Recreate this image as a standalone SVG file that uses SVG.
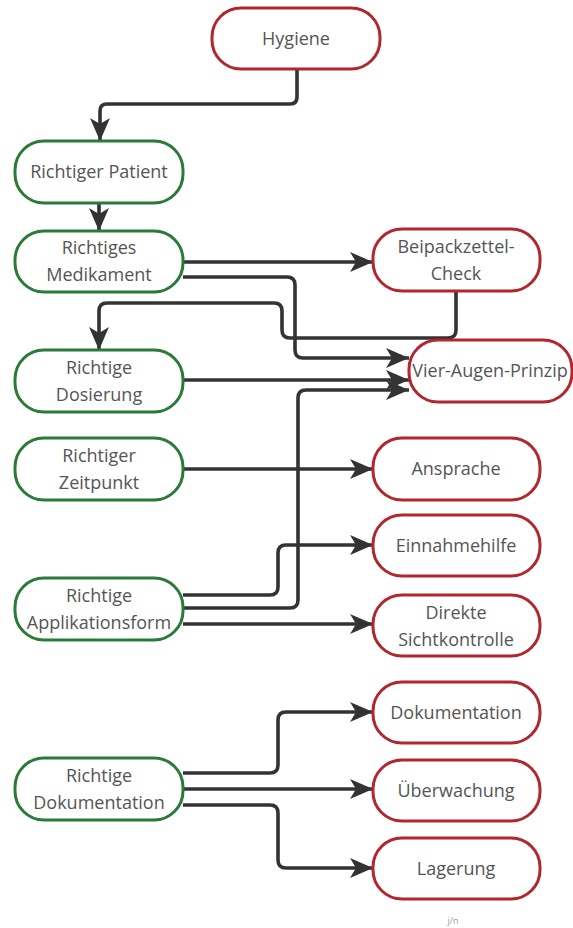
<svg xmlns="http://www.w3.org/2000/svg" width="573" height="928" viewBox="0 0 573 928">
<defs>
<style>
.g{fill:#fff;stroke:#2b7a38;stroke-width:3}
.r{fill:#fff;stroke:#b1272d;stroke-width:3}
.t{font-family:"Open Sans","Noto Sans",sans-serif;font-size:18px;fill:#555;text-anchor:middle}
.c{fill:none;stroke:#333;stroke-width:3.6;stroke-linejoin:round;marker-end:url(#ah)}
.s{font-family:"Open Sans",sans-serif;font-size:9px;fill:#9a9a9a;text-anchor:middle}
</style>
<marker id="ah" markerUnits="userSpaceOnUse" markerWidth="24" markerHeight="22" refX="23" refY="11" orient="auto" viewBox="0 0 24 22">
<path d="M0,1 L23,11 L0,21 L6,11 z" fill="#333"/>
</marker>
</defs>
<rect width="573" height="928" fill="#fff"/>
<g id="connectors">
<path class="c" d="M297,69 V97 Q297,104 290,104 H107 Q100,104 100,111 V141"/>
<path class="c" d="M99,203 V231"/>
<path class="c" d="M183,262 H373"/>
<path class="c" d="M183,277 H287 Q295,277 295,285 V350 Q295,358 303,358 H409"/>
<path class="c" d="M456,292 V330 Q456,338 448,338 H290 Q282,338 282,330 V311 Q282,303 274,303 H107 Q99,303 99,311 V350"/>
<path class="c" d="M183,380 H409"/>
<path class="c" d="M183,608 H290 Q298,608 298,600 V398 Q298,390 306,390 H409"/>
<path class="c" d="M183,469 H373"/>
<path class="c" d="M183,595 H270 Q278,595 278,587 V553 Q278,545 286,545 H373"/>
<path class="c" d="M183,624 H373"/>
<path class="c" d="M183,773 H270 Q278,773 278,765 V720 Q278,712 286,712 H373"/>
<path class="c" d="M183,789 H373"/>
<path class="c" d="M183,805 H270 Q278,805 278,813 V860 Q278,868 286,868 H373"/>
</g>
<g id="hygiene"><rect class="r" x="212" y="8" width="168" height="61" rx="29"/><text class="t" x="296" y="45">Hygiene</text></g>
<g id="patient"><rect class="g" x="15" y="141" width="168" height="62" rx="29"/><text class="t" x="99" y="178">Richtiger Patient</text></g>
<g id="medikament"><rect class="g" x="15" y="231" width="168" height="61" rx="29"/><text class="t" x="99" y="254">Richtiges</text><text class="t" x="99" y="281">Medikament</text></g>
<g id="beipackzettel"><rect class="r" x="373" y="229" width="167" height="62" rx="29"/><text class="t" x="456" y="253">Beipackzettel-</text><text class="t" x="456" y="280">Check</text></g>
<g id="vieraugen"><rect class="r" x="409" y="340" width="163" height="62" rx="29"/><text class="t" x="490" y="377">Vier-Augen-Prinzip</text></g>
<g id="dosierung"><rect class="g" x="15" y="350" width="168" height="62" rx="29"/><text class="t" x="99" y="374">Richtige</text><text class="t" x="99" y="401">Dosierung</text></g>
<g id="zeitpunkt"><rect class="g" x="15" y="438" width="168" height="62" rx="29"/><text class="t" x="99" y="462">Richtiger</text><text class="t" x="99" y="489">Zeitpunkt</text></g>
<g id="ansprache"><rect class="r" x="373" y="438" width="167" height="62" rx="29"/><text class="t" x="456" y="475">Ansprache</text></g>
<g id="einnahmehilfe"><rect class="r" x="373" y="515" width="167" height="61" rx="29"/><text class="t" x="456" y="552">Einnahmehilfe</text></g>
<g id="applikationsform"><rect class="g" x="15" y="578" width="168" height="62" rx="29"/><text class="t" x="99" y="602">Richtige</text><text class="t" x="99" y="629">Applikationsform</text></g>
<g id="sichtkontrolle"><rect class="r" x="373" y="595" width="167" height="61" rx="29"/><text class="t" x="456" y="619">Direkte</text><text class="t" x="456" y="646">Sichtkontrolle</text></g>
<g id="dokumentation"><rect class="r" x="373" y="682" width="167" height="61" rx="29"/><text class="t" x="456" y="719">Dokumentation</text></g>
<g id="richtigedokumentation"><rect class="g" x="15" y="758" width="168" height="62" rx="29"/><text class="t" x="99" y="782">Richtige</text><text class="t" x="99" y="809">Dokumentation</text></g>
<g id="ueberwachung"><rect class="r" x="373" y="760" width="167" height="61" rx="29"/><text class="t" x="456" y="797">Überwachung</text></g>
<g id="lagerung"><rect class="r" x="373" y="838" width="167" height="61" rx="29"/><text class="t" x="456" y="875">Lagerung</text></g>
<text class="s" x="453" y="924">j/n</text>
</svg>
